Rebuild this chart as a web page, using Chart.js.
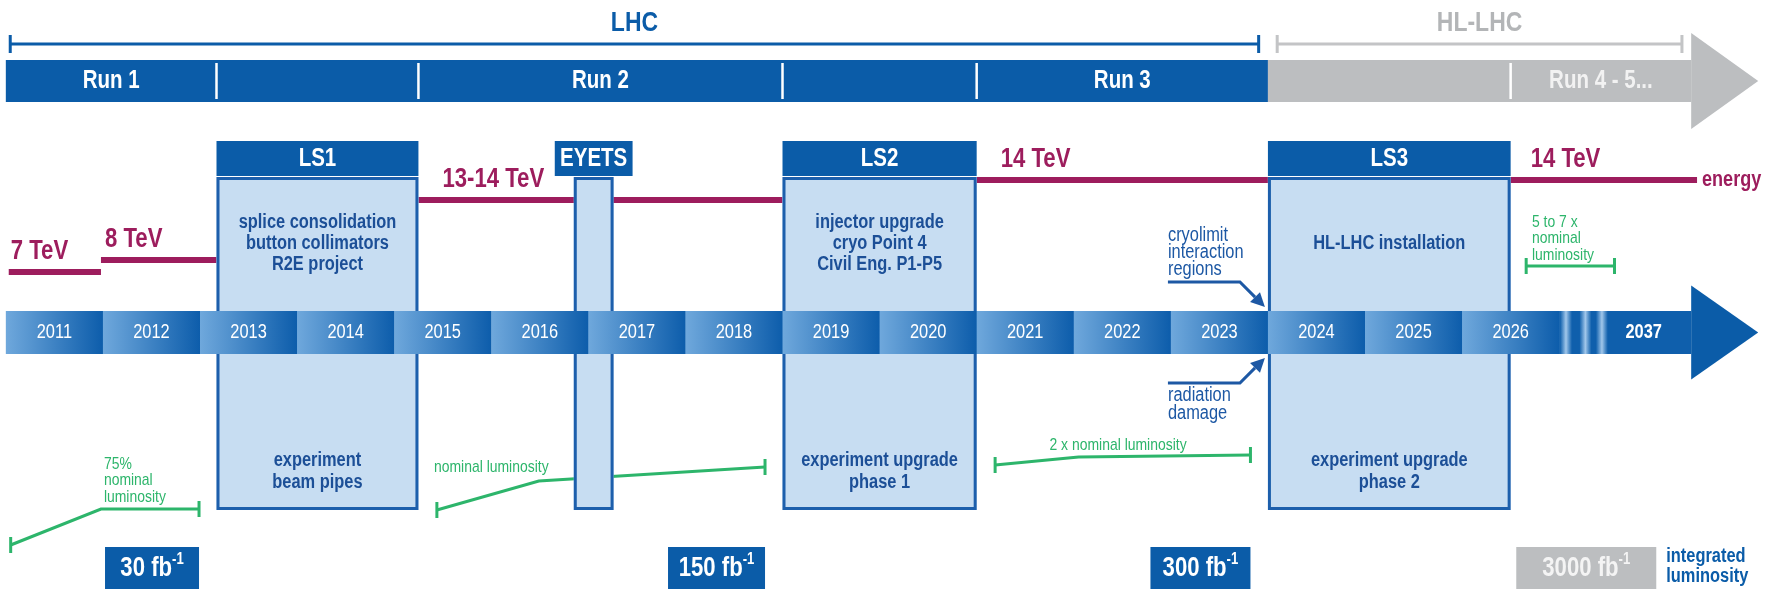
<!DOCTYPE html>
<html>
<head>
<meta charset="utf-8">
<script src="https://cdn.jsdelivr.net/npm/chart.js@4"></script>
<style>
  html, body { margin: 0; padding: 0; background: #fff; }
  #wrap { width: 1765px; height: 589px; position: relative; }
</style>
</head>
<body>
<div id="wrap"><canvas id="lhc"></canvas></div>
<script>
// ---- data (time axis in years) ----
const years = ['2011', '2012', '2013', '2014', '2015', '2016', '2017', '2018',
               '2019', '2020', '2021', '2022', '2023', '2024', '2025', '2026'];
const firstYear = 2011;
const farYear = '2037';

const eraNames = ['LHC', 'HL-LHC'];
const eraStart = [2011.03, 2024.08];
const eraEnd = [2023.92, 2028.28];

const runNames = ['Run 1', 'Run 2', 'Run 3', 'Run 4 - 5...'];
const runStart = [2011.0, 2015.25, 2021.0, 2026.5];
const runEnd = [2013.17, 2019.0, 2024.0, 2028.36];

const stopNames = ['LS1', 'EYETS', 'LS2', 'LS3'];
const stopStart = [2013.17, 2016.85, 2019.0, 2024.0];
const stopEnd = [2015.25, 2017.26, 2021.0, 2026.5];
const stopWork = [
  ['splice consolidation', 'button collimators', 'R2E project'],
  [],
  ['injector upgrade', 'cryo Point 4', 'Civil Eng. P1-P5'],
  ['HL-LHC installation']
];
const stopExperiment = [
  ['experiment', 'beam pipes'],
  [],
  ['experiment upgrade', 'phase 1'],
  ['experiment upgrade', 'phase 2']
];

const energyLabels = ['7 TeV', '8 TeV', '13-14 TeV', '14 TeV', '14 TeV'];
const energyStart = [2011.03, 2011.98, 2015.25, 2021.0, 2026.5];
const energyEnd = [2011.98, 2013.17, 2019.0, 2024.0, 2028.42];

const lumiNotes = [
  ['75%', 'nominal', 'luminosity'],
  ['nominal luminosity'],
  ['2 x nominal luminosity'],
  ['5 to 7 x', 'nominal', 'luminosity']
];
const lumiYears = [
  [2011.05, 2011.98, 2012.99],
  [2015.44, 2016.49, 2018.82],
  [2021.19, 2022.05, 2023.82],
  [2026.66, 2027.57]
];
const lumiTotals = ['30', '150', '300', '3000'];
const lumiTotalAt = [2012.99, 2018.82, 2023.82, 2028.0];

const limitNotes = [['cryolimit', 'interaction', 'regions'], ['radiation', 'damage']];

// ---- layout (vertical levels, pixels from the top) ----
const rows = {
  eraTitle: 23, eraLine: 44, eraTick: 9,
  runTop: 60, runBottom: 102, runHead: 48,
  stopTop: 141, stopHead: 177, stopBottom: 510,
  workMid: 243, expTop: 460,
  yearTop: 311, yearBottom: 354, yearHead: 47,
  totalTop: 547, totalBottom: 595
};
const energyRow = [272, 260, 200, 180, 180];
const energyLabelShift = [2, 4, 24, 24, 20];
const lumiRows = [[545, 509, 509], [510, 481, 467], [465, 457, 455], [266, 266]];
const lumiNoteAt = [[2012.01, 464], [2015.41, 467], [2021.75, 445], [2026.72, 222]];
const lumiBoxWidth = [94, 97, 100, 140];
const arrowEnd = 2028.36, arrowTip = 2029.05, farYearAt = 2027.87;

const BLUE = '#0b5ca8', LIGHT = '#c7ddf2', EDGE = '#1d5fac', INK = '#1c4f97';
const MAROON = '#9d1d5d', GREEN = '#2db56b', GRAY = '#bcbec0', GRAY_TEXT = '#b3b5b7';
const SQUEEZE = 0.82; // condensed look of the original lettering

function label(ctx, str, x, y, size, bold, color, align) {
  ctx.save();
  ctx.font = (bold ? 'bold ' : '') + size + 'px "Liberation Sans", Arial, sans-serif';
  const w = ctx.measureText(str).width * SQUEEZE;
  let left = x;
  if (align === 'center') left = x - w / 2;
  else if (align === 'right') left = x - w;
  ctx.fillStyle = color;
  ctx.textBaseline = 'middle';
  ctx.textAlign = 'left';
  ctx.translate(left, y);
  ctx.scale(SQUEEZE, 1);
  ctx.fillText(str, 0, 0);
  ctx.restore();
  return w;
}

function textWidth(ctx, str, size, bold) {
  ctx.save();
  ctx.font = (bold ? 'bold ' : '') + size + 'px "Liberation Sans", Arial, sans-serif';
  const w = ctx.measureText(str).width * SQUEEZE;
  ctx.restore();
  return w;
}

function pointer(ctx, pts, color) {
  const a = pts[pts.length - 2], b = pts[pts.length - 1];
  const ang = Math.atan2(b[1] - a[1], b[0] - a[0]);
  const L = 14, W = 7;
  ctx.save();
  ctx.strokeStyle = color;
  ctx.lineWidth = 3;
  ctx.beginPath();
  ctx.moveTo(pts[0][0], pts[0][1]);
  for (let i = 1; i < pts.length - 1; i++) ctx.lineTo(pts[i][0], pts[i][1]);
  ctx.lineTo(b[0] - L * Math.cos(ang), b[1] - L * Math.sin(ang));
  ctx.stroke();
  ctx.fillStyle = color;
  ctx.beginPath();
  ctx.moveTo(b[0], b[1]);
  ctx.lineTo(b[0] - L * Math.cos(ang) + W * Math.sin(ang), b[1] - L * Math.sin(ang) - W * Math.cos(ang));
  ctx.lineTo(b[0] - L * Math.cos(ang) - W * Math.sin(ang), b[1] - L * Math.sin(ang) + W * Math.cos(ang));
  ctx.closePath();
  ctx.fill();
  ctx.restore();
}

const timeline = {
  id: 'timeline',
  beforeDatasetsDraw(chart) {
    const ctx = chart.ctx;
    const X = v => chart.scales.x.getPixelForValue(v);
    const Y = v => chart.scales.y.getPixelForValue(v);

    // era brackets
    eraNames.forEach((name, i) => {
      const col = i === 0 ? BLUE : '#c3c4c6';
      const x0 = X(eraStart[i]), x1 = X(eraEnd[i]), yl = Y(rows.eraLine);
      ctx.save();
      ctx.strokeStyle = col;
      ctx.lineWidth = 3;
      ctx.beginPath();
      ctx.moveTo(x0, yl); ctx.lineTo(x1, yl);
      ctx.moveTo(x0 + 1.5, yl - rows.eraTick); ctx.lineTo(x0 + 1.5, yl + rows.eraTick);
      ctx.moveTo(x1 - 1.5, yl - rows.eraTick); ctx.lineTo(x1 - 1.5, yl + rows.eraTick);
      ctx.stroke();
      ctx.restore();
      label(ctx, name, (x0 + x1) / 2, Y(rows.eraTitle), 28, true, i === 0 ? BLUE : GRAY_TEXT, 'center');
    });

    // run bar
    const rTop = Y(rows.runTop), rBot = Y(rows.runBottom), rMid = (rTop + rBot) / 2;
    const split = X(stopStart[3]);
    ctx.fillStyle = BLUE;
    ctx.fillRect(X(firstYear), rTop, split - X(firstYear), rBot - rTop);
    ctx.fillStyle = GRAY;
    ctx.fillRect(split, rTop, X(arrowEnd) - split, rBot - rTop);
    ctx.beginPath();
    ctx.moveTo(X(arrowEnd), rMid - rows.runHead);
    ctx.lineTo(X(arrowTip), rMid);
    ctx.lineTo(X(arrowEnd), rMid + rows.runHead);
    ctx.closePath();
    ctx.fill();

    ctx.save();
    ctx.strokeStyle = '#ffffff';
    ctx.lineWidth = 2.5;
    stopNames.forEach((name, i) => {
      if (name === 'EYETS') return;
      [stopStart[i], stopEnd[i]].forEach(t => {
        if (t === stopStart[3]) return;
        ctx.beginPath();
        ctx.moveTo(X(t), rTop + 3);
        ctx.lineTo(X(t), rBot - 3);
        ctx.stroke();
      });
    });
    ctx.restore();
    runNames.forEach((name, i) => {
      label(ctx, name, (X(runStart[i]) + X(runEnd[i])) / 2, rMid, 25, true,
            i === 3 ? '#f2f2f2' : '#ffffff', 'center');
    });

    // integrated luminosity targets
    const tTop = Y(rows.totalTop), tBot = Y(rows.totalBottom), tMid = tTop + 22;
    lumiTotals.forEach((v, i) => {
      const main = v + ' fb', sup = '-1';
      const mw = textWidth(ctx, main, 27, true), sw = textWidth(ctx, sup, 16, true);
      const w = lumiBoxWidth[i];
      const right = X(lumiTotalAt[i]);
      const last = i === lumiTotals.length - 1;
      ctx.fillStyle = last ? GRAY : BLUE;
      ctx.fillRect(right - w, tTop, w, tBot - tTop);
      const col = last ? '#f4f4f4' : '#ffffff';
      const start = right - w / 2 - (mw + sw) / 2;
      label(ctx, main, start, tMid, 27, true, col, 'left');
      label(ctx, sup, start + mw, tMid - 9, 16, true, col, 'left');
    });
    const lastRight = X(lumiTotalAt[3]);
    label(ctx, 'integrated', lastRight + 10, tTop + 9, 20, true, BLUE, 'left');
    label(ctx, 'luminosity', lastRight + 10, tTop + 29, 20, true, BLUE, 'left');
  },

  afterDatasetsDraw(chart) {
    const ctx = chart.ctx;
    const X = v => chart.scales.x.getPixelForValue(v);
    const Y = v => chart.scales.y.getPixelForValue(v);

    // energy labels
    energyLabels.forEach((txt, i) => {
      label(ctx, txt, X(energyStart[i]) + energyLabelShift[i], Y(energyRow[i]) - 20, 27, true, MAROON, 'left');
    });
    label(ctx, 'energy', X(energyEnd[4]) + 5, Y(energyRow[4]), 22, true, MAROON, 'left');

    // luminosity notes
    lumiNotes.forEach((lines, i) => {
      lines.forEach((ln, k) => {
        label(ctx, ln, X(lumiNoteAt[i][0]), Y(lumiNoteAt[i][1]) + k * 16.5, 17, false, GREEN, 'left');
      });
    });

    // shutdown boxes
    const sTop = Y(rows.stopTop), sHead = Y(rows.stopHead), sBot = Y(rows.stopBottom);
    stopNames.forEach((name, i) => {
      const x0 = X(stopStart[i]), x1 = X(stopEnd[i]);
      ctx.fillStyle = LIGHT;
      ctx.fillRect(x0, sHead, x1 - x0, sBot - sHead);
      ctx.save();
      ctx.strokeStyle = EDGE;
      ctx.lineWidth = 3;
      ctx.strokeRect(x0 + 1.5, sHead + 1.5, x1 - x0 - 3, sBot - sHead - 3);
      ctx.restore();
      const pad = name === 'EYETS' ? 19 : 0;
      ctx.fillStyle = BLUE;
      ctx.fillRect(x0 - pad, sTop, x1 - x0 + 2 * pad, sHead - sTop - 1);
      label(ctx, name, (x0 + x1) / 2, (sTop + sHead) / 2, 25, true, '#ffffff', 'center');
      const work = stopWork[i];
      work.forEach((ln, k) => {
        label(ctx, ln, (x0 + x1) / 2, Y(rows.workMid) + (k - (work.length - 1) / 2) * 21, 20, true, INK, 'center');
      });
      stopExperiment[i].forEach((ln, k) => {
        label(ctx, ln, (x0 + x1) / 2, Y(rows.expTop) + k * 22, 20, true, INK, 'center');
      });
    });

    // year arrow
    const yTop = Y(rows.yearTop), yBot = Y(rows.yearBottom), yMid = (yTop + yBot) / 2;
    years.forEach((yr, i) => {
      const x0 = X(firstYear + i), x1 = X(firstYear + i + 1);
      const g = ctx.createLinearGradient(x0, 0, x1, 0);
      g.addColorStop(0, '#6fa8dc');
      g.addColorStop(1, '#0d5dab');
      ctx.fillStyle = g;
      ctx.fillRect(x0, yTop, x1 - x0 + 0.5, yBot - yTop);
      label(ctx, yr, (x0 + x1) / 2, yMid, 20, false, '#ffffff', 'center');
    });
    const tail0 = X(firstYear + years.length);
    ctx.fillStyle = '#0f5fac';
    ctx.fillRect(tail0, yTop, X(arrowEnd) - tail0, yBot - yTop);
    [0.07, 0.27, 0.44].forEach(off => {
      const cx = X(firstYear + years.length + off);
      const g = ctx.createLinearGradient(cx - 6, 0, cx + 6, 0);
      g.addColorStop(0, 'rgba(160,200,236,0)');
      g.addColorStop(0.5, 'rgba(170,205,238,0.95)');
      g.addColorStop(1, 'rgba(160,200,236,0)');
      ctx.fillStyle = g;
      ctx.fillRect(cx - 6, yTop, 12, yBot - yTop);
    });
    ctx.fillStyle = BLUE;
    ctx.beginPath();
    ctx.moveTo(X(arrowEnd), yMid - rows.yearHead);
    ctx.lineTo(X(arrowTip), yMid);
    ctx.lineTo(X(arrowEnd), yMid + rows.yearHead);
    ctx.closePath();
    ctx.fill();
    label(ctx, farYear, X(farYearAt), yMid, 20, true, '#ffffff', 'center');

    // limits pointing at the start of LS3
    const tx = X(stopStart[3]) - 3, left = tx - 97, bend = tx - 25;
    limitNotes[0].forEach((ln, k) => label(ctx, ln, left, Y(235) + k * 17, 20, false, '#1d58a4', 'left'));
    pointer(ctx, [[left, yTop - 29], [bend, yTop - 29], [tx, yTop - 4]], '#1d58a4');
    limitNotes[1].forEach((ln, k) => label(ctx, ln, left, Y(395) + k * 18, 20, false, '#1d58a4', 'left'));
    pointer(ctx, [[left, yBot + 29], [bend, yBot + 29], [tx, yBot + 4]], '#1d58a4');
  }
};

const energySets = energyLabels.map((name, i) => ({
  label: name,
  data: [{ x: energyStart[i], y: energyRow[i] }, { x: energyEnd[i], y: energyRow[i] }],
  borderColor: MAROON,
  borderWidth: 6,
  borderCapStyle: 'butt',
  pointRadius: 0
}));

const lumiSets = lumiYears.map((xs, i) => ({
  label: lumiNotes[i].join(' '),
  data: xs.map((x, k) => ({ x: x, y: lumiRows[i][k] })),
  borderColor: GREEN,
  borderWidth: 3,
  pointStyle: 'line',
  rotation: 90,
  pointBorderColor: GREEN,
  pointBorderWidth: 3,
  pointRadius: c => (c.dataIndex === 0 || c.dataIndex === xs.length - 1) ? 8 : 0
}));

new Chart(document.getElementById('lhc'), {
  type: 'line',
  data: { datasets: energySets.concat(lumiSets) },
  options: {
    responsive: true,
    maintainAspectRatio: false,
    animation: false,
    events: [],
    layout: { padding: 0, autoPadding: false },
    elements: { line: { tension: 0 } },
    plugins: { legend: { display: false }, tooltip: { enabled: false } },
    scales: {
      x: { type: 'linear', min: 2010.94, max: 2029.12, display: false },
      y: { type: 'linear', min: 0, max: 589, reverse: true, display: false }
    }
  },
  plugins: [timeline]
});
</script>
</body>
</html>
